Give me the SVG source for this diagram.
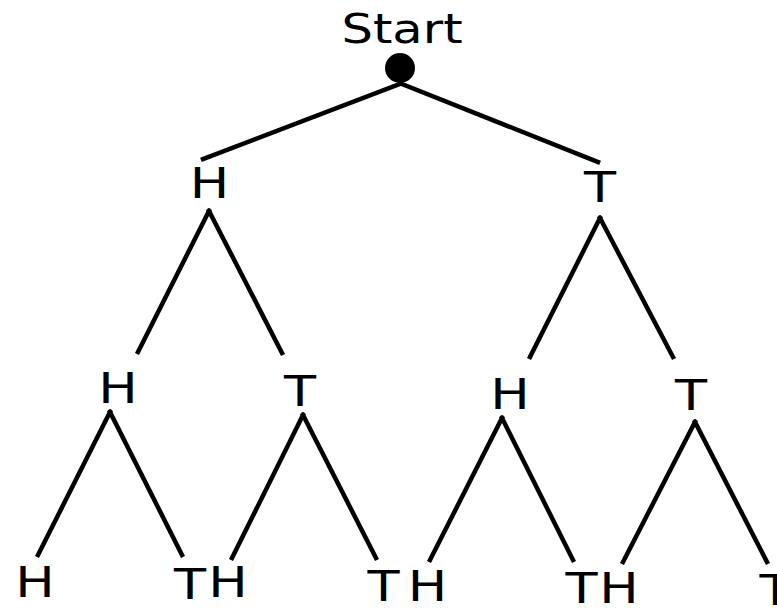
<svg xmlns="http://www.w3.org/2000/svg" width="777" height="608" viewBox="0 0 777 608">
<style>
.lbl{font-family:"DejaVu Sans","Verdana",sans-serif;font-size:42px;fill:#000;text-anchor:middle}
.edge{stroke:#000;stroke-width:4.5;fill:none;stroke-linecap:square}
</style>
<rect width="777" height="608" fill="#fff"/>
<g id="connectors">
<line class="edge" x1="400" y1="84" x2="203" y2="159"/>
<line class="edge" x1="402" y1="84" x2="598" y2="162"/>
<line class="edge" x1="209" y1="211" x2="138" y2="352"/>
<line class="edge" x1="209" y1="211" x2="282" y2="353"/>
<line class="edge" x1="600" y1="218" x2="530" y2="357"/>
<line class="edge" x1="600" y1="218" x2="673" y2="357"/>
<line class="edge" x1="110" y1="412" x2="38" y2="555"/>
<line class="edge" x1="110" y1="412" x2="182" y2="555"/>
<line class="edge" x1="303" y1="415" x2="232" y2="558"/>
<line class="edge" x1="303" y1="415" x2="376" y2="558"/>
<line class="edge" x1="502" y1="418" x2="430" y2="560"/>
<line class="edge" x1="502" y1="418" x2="573" y2="560"/>
<line class="edge" x1="695" y1="422" x2="623" y2="562"/>
<line class="edge" x1="695" y1="422" x2="767" y2="562"/>
</g>
<g id="start">
<text class="lbl" style="font-size:40px" transform="translate(402,43) scale(1.24,1)">Start</text>
<circle cx="400" cy="68" r="15" fill="#000"/>
</g>
<g id="n1H"><text class="lbl" transform="translate(209.5,198) scale(1.25,1)">H</text></g>
<g id="n1T"><text class="lbl" transform="translate(600,202) scale(1.25,1)">T</text></g>
<g id="n2HH"><text class="lbl" transform="translate(118,403) scale(1.25,1)">H</text></g>
<g id="n2HT"><text class="lbl" transform="translate(300,406) scale(1.25,1)">T</text></g>
<g id="n2TH"><text class="lbl" transform="translate(510,409) scale(1.25,1)">H</text></g>
<g id="n2TT"><text class="lbl" transform="translate(691,410) scale(1.25,1)">T</text></g>
<g id="n3HHH"><text class="lbl" transform="translate(35,597) scale(1.25,1)">H</text></g>
<g id="n3HHT"><text class="lbl" transform="translate(190,599) scale(1.25,1)">T</text></g>
<g id="n3HTH"><text class="lbl" transform="translate(228,597) scale(1.25,1)">H</text></g>
<g id="n3HTT"><text class="lbl" transform="translate(383.5,601) scale(1.25,1)">T</text></g>
<g id="n3THH"><text class="lbl" transform="translate(427.5,601) scale(1.25,1)">H</text></g>
<g id="n3THT"><text class="lbl" transform="translate(581.5,603) scale(1.25,1)">T</text></g>
<g id="n3TTH"><text class="lbl" transform="translate(619,603) scale(1.25,1)">H</text></g>
<g id="n3TTT"><text class="lbl" transform="translate(775.5,605) scale(1.25,1)">T</text></g>
</svg>
